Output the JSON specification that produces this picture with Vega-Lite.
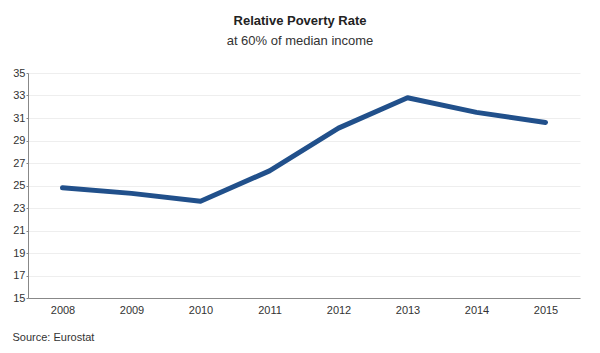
{
  "$schema": "https://vega.github.io/schema/vega-lite/v6.json",
  "width": 552,
  "height": 225,
  "autosize": "none",
  "padding": {"left": 28, "top": 73, "right": 20, "bottom": 55},
  "background": "white",
  "title": {
    "text": "Relative Poverty Rate",
    "subtitle": "at 60% of median income",
    "anchor": "middle",
    "font": "Liberation Sans",
    "fontSize": 13,
    "fontWeight": "bold",
    "color": "#222",
    "subtitleFont": "Liberation Sans",
    "subtitleFontSize": 13,
    "subtitleColor": "#333",
    "subtitlePadding": 7,
    "offset": 19,
    "dx": -4
  },
  "data": {
    "values": [
      {"year": "2008", "rate": 24.8},
      {"year": "2009", "rate": 24.3},
      {"year": "2010", "rate": 23.6},
      {"year": "2011", "rate": 26.3},
      {"year": "2012", "rate": 30.1},
      {"year": "2013", "rate": 32.8},
      {"year": "2014", "rate": 31.5},
      {"year": "2015", "rate": 30.6}
    ]
  },
  "mark": {"type": "line", "color": "#21508b", "strokeWidth": 5, "strokeCap": "round", "strokeJoin": "round"},
  "encoding": {
    "x": {
      "field": "year",
      "type": "ordinal",
      "scale": {"type": "point", "padding": 0.5},
      "axis": {
        "title": "Source: Eurostat",
        "titleAnchor": "start",
        "titleAlign": "left",
        "titleX": -16,
        "titleY": 33,
        "titleFont": "Liberation Sans",
        "titleFontSize": 11,
        "titleFontWeight": "normal",
        "titleColor": "#333",
        "labelAngle": 0,
        "labelFont": "Liberation Sans",
        "labelFontSize": 11,
        "labelColor": "#333",
        "labelPadding": 6,
        "ticks": false,
        "domainColor": "#888",
        "grid": false
      }
    },
    "y": {
      "field": "rate",
      "type": "quantitative",
      "scale": {"domain": [15, 35], "nice": false, "zero": false},
      "axis": {
        "title": null,
        "values": [15, 17, 19, 21, 23, 25, 27, 29, 31, 33, 35],
        "labelFont": "Liberation Sans",
        "labelFontSize": 11,
        "labelColor": "#333",
        "labelPadding": 1,
        "tickSize": 2,
        "tickColor": "#888",
        "domainColor": "#888",
        "gridColor": "#eeeeee",
        "gridWidth": 1
      }
    }
  },
  "config": {
    "view": {"stroke": null}
  }
}
